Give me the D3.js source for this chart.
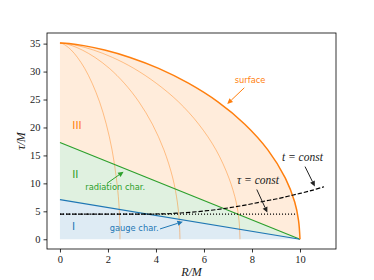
<!DOCTYPE html>
<html>
<head>
<meta charset="utf-8">
<script src="https://cdn.jsdelivr.net/npm/d3@7"></script>
<style>
  body { margin: 0; background: #fff; }
  .tick text { font-family: "Liberation Serif", serif; font-size: 10.5px; }
  .ann { font-family: "DejaVu Sans", sans-serif; font-size: 8.3px; }
  .math { font-family: "Liberation Serif", serif; font-style: italic; font-size: 11.5px; }
  .axlabel { font-family: "Liberation Serif", serif; font-style: italic; font-size: 12px; }
</style>
</head>
<body>
<div id="viz"></div>
<script>
const width = 374;
const height = 280;
const margin = {top: 33, right: 38, bottom: 31, left: 47};
const orange = '#ff7f0e';
const green = '#2ca02c';
const blue = '#1f77b4';

// proper time samples (tau/M) shared by the surface and the inner shells
const tau = [0, 3.35, 6.66, 10.95, 16.0, 20.59, 24.58, 27.92, 30.57, 32.53, 33.85, 34.64, 35.01, 35.12];
// surface radius R/M at each tau
const surfaceR = [10, 9.94, 9.78, 9.39, 8.66, 7.70, 6.58, 5.35, 4.11, 2.92, 1.86, 0.99, 0.38, 0];
// inner comoving shells, starting at R = 7.5, 5, 2.5
const shell75R = [7.5, 7.46, 7.34, 7.04, 6.50, 5.78, 4.94, 4.01, 3.08, 2.19, 1.40, 0.74, 0.29, 0];
const shell50R = [5, 4.97, 4.89, 4.70, 4.33, 3.85, 3.29, 2.68, 2.06, 1.46, 0.93, 0.50, 0.19, 0];
const shell25R = [2.5, 2.49, 2.45, 2.35, 2.17, 1.93, 1.65, 1.34, 1.03, 0.73, 0.47, 0.25, 0.10, 0];

// characteristics: straight lines from R=0 down to the surface foot at R=10
const radiationR = [0, 10];
const radiationTau = [17.3, 0];
const gaugeR = [0, 10];
const gaugeTau = [7.1, 0];

// tau = const slice (dotted) and t = const slice (dashed)
const tauConstR = [0, 9.85];
const tauConstTau = [4.5, 4.5];
const tConstR = [0, 2, 3, 4, 4.5, 5, 5.5, 6, 6.5, 7, 7.5, 8, 8.5, 9, 9.5, 10, 10.5, 11];
const tConstTau = [4.5, 4.5, 4.5, 4.52, 4.57, 4.7, 4.85, 5.05, 5.3, 5.6, 5.95, 6.35, 6.8, 7.2, 7.7, 8.2, 8.75, 9.4];

const xTicks = [0, 2, 4, 6, 8, 10];
const yTicks = [0, 5, 10, 15, 20, 25, 30, 35];

const zip = (rs, ts) => rs.map((r, i) => [r, ts[i]]);

const x = d3.scaleLinear().domain([-0.54, 11.5]).range([margin.left, width - margin.right]);
const y = d3.scaleLinear().domain([-1.74, 36.9]).range([height - margin.bottom, margin.top]);

const svg = d3.select('#viz').append('svg')
  .attr('width', width)
  .attr('height', height);

const plot = svg.append('g');

const line = d3.line().x(d => x(d[0])).y(d => y(d[1]));
const smooth = d3.line().x(d => x(d[0])).y(d => y(d[1])).curve(d3.curveCatmullRom);

// reversed so it runs from the top (R=0) down to the foot (R=10)
const surfacePts = zip(surfaceR, tau).reverse();

// region III: between radiation char. and surface
plot.append('path')
  .attr('d', smooth(surfacePts) + `L${x(radiationR[0])},${y(radiationTau[0])}Z`)
  .attr('fill', orange).attr('fill-opacity', 0.15);

// region II: between gauge and radiation characteristics
plot.append('path')
  .attr('d', line(zip(radiationR, radiationTau).concat(zip(gaugeR, gaugeTau).reverse())) + 'Z')
  .attr('fill', green).attr('fill-opacity', 0.15);

// region I: below gauge char.
plot.append('path')
  .attr('d', line(zip(gaugeR, gaugeTau).concat([[0, 0]])) + 'Z')
  .attr('fill', blue).attr('fill-opacity', 0.15);

// inner shells
[shell25R, shell50R, shell75R].forEach(rs => {
  plot.append('path')
    .attr('d', smooth(zip(rs, tau)))
    .attr('fill', 'none')
    .attr('stroke', orange).attr('stroke-opacity', 0.55)
    .attr('stroke-width', 0.8);
});

plot.append('path')
  .attr('d', line(zip(radiationR, radiationTau)))
  .attr('fill', 'none').attr('stroke', green).attr('stroke-width', 1.2);

plot.append('path')
  .attr('d', line(zip(gaugeR, gaugeTau)))
  .attr('fill', 'none').attr('stroke', blue).attr('stroke-width', 1.2);

plot.append('path')
  .attr('d', smooth(surfacePts))
  .attr('fill', 'none').attr('stroke', orange).attr('stroke-width', 1.5);

plot.append('path')
  .attr('d', line(zip(tauConstR, tauConstTau)))
  .attr('fill', 'none').attr('stroke', 'black').attr('stroke-width', 1.1)
  .attr('stroke-dasharray', '1.1,1.9');

plot.append('path')
  .attr('d', smooth(zip(tConstR, tConstTau)))
  .attr('fill', 'none').attr('stroke', 'black').attr('stroke-width', 1.2)
  .attr('stroke-dasharray', '4.4,1.9');

// annotations: label position, arrow tail and arrow tip, in data units
const annotations = [
  {text: 'surface', cls: 'ann', color: orange, at: [7.92, 28.0], from: [7.68, 27.1], to: [6.97, 24.2]},
  {text: 'radiation char.', cls: 'ann', color: green, at: [2.3, 8.9], from: [1.96, 10.0], to: [2.65, 12.1]},
  {text: 'gauge char.', cls: 'ann', color: blue, at: [3.09, 1.4], from: [4.17, 1.85], to: [5.12, 3.15]},
  {text: 'τ = const', cls: 'math', color: '#222', at: [8.25, 9.8], from: [8.2, 8.9], to: [8.64, 4.77]},
  {text: 't = const', cls: 'math', color: '#222', at: [10.1, 14.0], from: [10.21, 13.0], to: [10.62, 9.43]}
];

const regionLabels = [
  {text: 'III', color: orange, at: [0.71, 19.8]},
  {text: 'II', color: green, at: [0.64, 10.9]},
  {text: 'I', color: blue, at: [0.57, 1.6]}
];

annotations.forEach(a => {
  const x1 = x(a.from[0]), y1 = y(a.from[1]);
  const x2 = x(a.to[0]), y2 = y(a.to[1]);
  const ang = Math.atan2(y2 - y1, x2 - x1);
  const hl = 5.5, hw = 2.6;
  const bx = x2 - hl * Math.cos(ang), by = y2 - hl * Math.sin(ang);
  plot.append('line')
    .attr('x1', x1).attr('y1', y1).attr('x2', bx).attr('y2', by)
    .attr('stroke', a.color).attr('stroke-width', 1);
  plot.append('path')
    .attr('d', `M${x2},${y2}L${bx - hw * Math.sin(ang)},${by + hw * Math.cos(ang)}L${bx + hw * Math.sin(ang)},${by - hw * Math.cos(ang)}Z`)
    .attr('fill', a.color);
  plot.append('text')
    .attr('class', a.cls)
    .attr('x', x(a.at[0])).attr('y', y(a.at[1]))
    .attr('text-anchor', 'middle')
    .attr('fill', a.color)
    .text(a.text);
});

regionLabels.forEach(l => {
  plot.append('text')
    .attr('class', 'ann')
    .attr('x', x(l.at[0])).attr('y', y(l.at[1]))
    .attr('text-anchor', 'middle')
    .attr('fill', l.color)
    .style('font-size', '10.5px')
    .text(l.text);
});

// axes
svg.append('g')
  .attr('transform', `translate(0,${height - margin.bottom})`)
  .call(d3.axisBottom(x).tickValues(xTicks).tickSize(3.5).tickPadding(3).tickFormat(d3.format('d')))
  .call(g => g.select('.domain').remove());

svg.append('g')
  .attr('transform', `translate(${margin.left},0)`)
  .call(d3.axisLeft(y).tickValues(yTicks).tickSize(3.5).tickPadding(3).tickFormat(d3.format('d')))
  .call(g => g.select('.domain').remove());

svg.selectAll('.tick line').attr('stroke-width', 0.8);
svg.selectAll('.tick text').attr('fill', '#222');

svg.append('rect')
  .attr('x', margin.left).attr('y', margin.top)
  .attr('width', width - margin.left - margin.right)
  .attr('height', height - margin.top - margin.bottom)
  .attr('fill', 'none').attr('stroke', 'black').attr('stroke-width', 0.8);

svg.append('text')
  .attr('class', 'axlabel')
  .attr('x', (margin.left + width - margin.right) / 2)
  .attr('y', height - 4)
  .attr('text-anchor', 'middle')
  .attr('fill', '#222')
  .text('R/M');

svg.append('text')
  .attr('class', 'axlabel')
  .attr('transform', `translate(25,${(margin.top + height - margin.bottom) / 2}) rotate(-90)`)
  .attr('text-anchor', 'middle')
  .attr('fill', '#222')
  .text('τ/M');
</script>
</body>
</html>
